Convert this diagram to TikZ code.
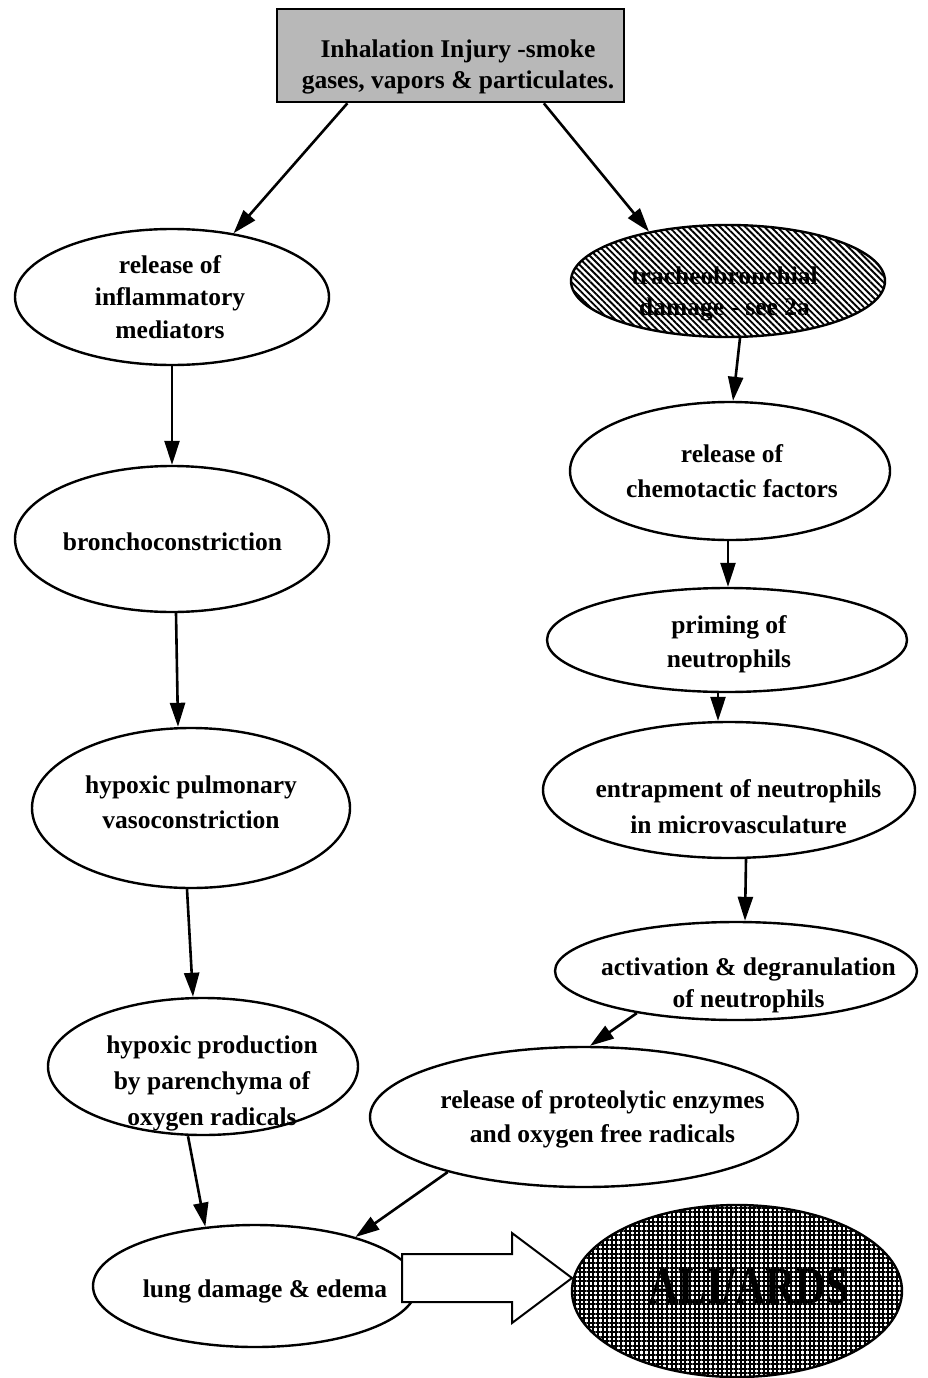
\documentclass[tikz,border=0pt]{standalone}
\usepackage{fontspec}
\usepackage{graphicx}
\setmainfont{Liberation Serif}
\usetikzlibrary{arrows.meta,shapes.geometric,calc,patterns.meta}
\begin{document}
\begin{tikzpicture}[x=1pt,y=-1pt,
  ell/.style={ellipse, draw=black, line width=2.4pt, fill=white, inner sep=0pt},
  txt/.style={align=center, font=\fontsize{25.5}{#1}\selectfont\bfseries, inner sep=0pt},
  txt/.default=34,
  arr/.style={line width=2.6pt, -{Triangle[length=24pt,width=15pt]}},
  blockarrow/.style={line width=2pt, fill=white, line join=miter},
]
\useasboundingbox (0,0) rectangle (927,1378);
\fill[white] (0,0) rectangle (927,1378);

% top box
\node[draw=black, line width=2.6pt, fill=black!28, minimum width=347pt, minimum height=93pt, inner sep=0pt] (box) at (450.5,55.5) {};
\node[txt=31] (boxt) at (458,66.6) {Inhalation Injury -smoke\\gases, vapors \& particulates.};

% left column
\node[ell, minimum width=314pt, minimum height=136pt] (rel) at (172,297) {};
\node[txt=32.5] (relt) at (170,296.8) {release of\\inflammatory\\mediators};

\node[ell, minimum width=314pt, minimum height=146pt] (bro) at (172,539) {};
\node[txt] (brot) at (172.5,541.3) {bronchoconstriction};

\node[ell, minimum width=318pt, minimum height=160pt] (hpv) at (191,808) {};
\node[txt=35] (hpvt) at (191,801.8) {hypoxic pulmonary\\vasoconstriction};

\node[ell, minimum width=310pt, minimum height=137pt] (hpp) at (203,1066.5) {};
\node[txt=36] (hppt) at (212,1083) {hypoxic production\\by parenchyma of\\oxygen radicals};

\node[ell, minimum width=324pt, minimum height=122pt] (lung) at (255,1286) {};
\node[txt] (lungt) at (265,1291) {lung damage \& edema};

% right column
\node[ellipse, draw=black, line width=2.4pt, inner sep=0pt, preaction={fill=white},
      pattern={Lines[angle=-45,distance=4.5pt,line width=1.9pt]},
      minimum width=314pt, minimum height=112pt] (tra) at (728,281) {};
\node[txt=31] (trat) at (724.5,293.5) {tracheobronchial\\damage - see 2a};

\node[ell, minimum width=320pt, minimum height=138pt] (chem) at (730,471) {};
\node[txt=35] (chemt) at (732,470.8) {release of\\chemotactic factors};

\node[ell, minimum width=360pt, minimum height=104pt] (prim) at (727,640) {};
\node[txt] (primt) at (729,644) {priming of\\neutrophils};

\node[ell, minimum width=372pt, minimum height=136pt] (ent) at (729,790) {};
\node[txt=36] (entt) at (738.5,806.3) {entrapment of neutrophils\\in microvasculature};

\node[ell, minimum width=362pt, minimum height=98pt] (act) at (736,971) {};
\node[txt=32] (actt) at (748.5,985) {activation \& degranulation\\of neutrophils};

\node[ell, minimum width=428pt, minimum height=140pt] (prot) at (584,1117) {};
\node[txt] (prott) at (602.5,1119) {release of proteolytic enzymes\\and oxygen free radicals};

\node[ellipse, draw=black, line width=2.4pt, inner sep=0pt, preaction={fill=white},
      pattern={Hatch[distance=4.6pt,line width=2pt]},
      minimum width=330pt, minimum height=172pt] (ali) at (737,1291) {};
\node[font=\fontsize{42}{48}\selectfont\bfseries, inner sep=0pt] (alit) at (749,1286) {\scalebox{1}[1.25]{ALI/ARDS}};

% connectors
\draw[arr] ($(box.south west)!0.205!(box.south east)$) -- (rel.46);
\draw[arr] ($(box.south west)!0.767!(box.south east)$) -- (tra.148);
\draw[arr] (rel.south) -- (bro.north);
\draw[arr] ($(bro.south)+(4,0)$) -- ($(hpv.north)+(-13,0)$);
\draw[arr] ($(hpv.south)+(-4,0)$) -- ($(hpp.north)+(-10,0)$);
\draw[arr] ($(hpp.south)+(-15,0)$) -- (lung.130);
\draw[arr] ($(tra.south)+(12,0)$) -- ($(chem.north)+(3,0)$);
\draw[arr] ($(chem.south)+(-2,0)$) -- ($(prim.north)+(1,0)$);
\draw[arr] ($(prim.south)+(-9,0)$) -- ($(ent.north)+(-11,0)$);
\draw[arr] ($(ent.south)+(17,0)$) -- ($(act.north)+(9,0)$);
\draw[arr] (act.203) -- ($(prot.north)+(6,0)$);
\draw[arr] (prot.202) -- (lung.26);

% block arrow from lung damage to ALI/ARDS
\coordinate (bt) at ($(ali.west)+(1,-13)$);
\draw[blockarrow] ($(bt)+(-170,-24)$) -- ($(bt)+(-60,-24)$) -- ($(bt)+(-60,-45)$)
  -- (bt) -- ($(bt)+(-60,45)$) -- ($(bt)+(-60,24)$) -- ($(bt)+(-170,24)$) -- cycle;
\end{tikzpicture}
\end{document}
